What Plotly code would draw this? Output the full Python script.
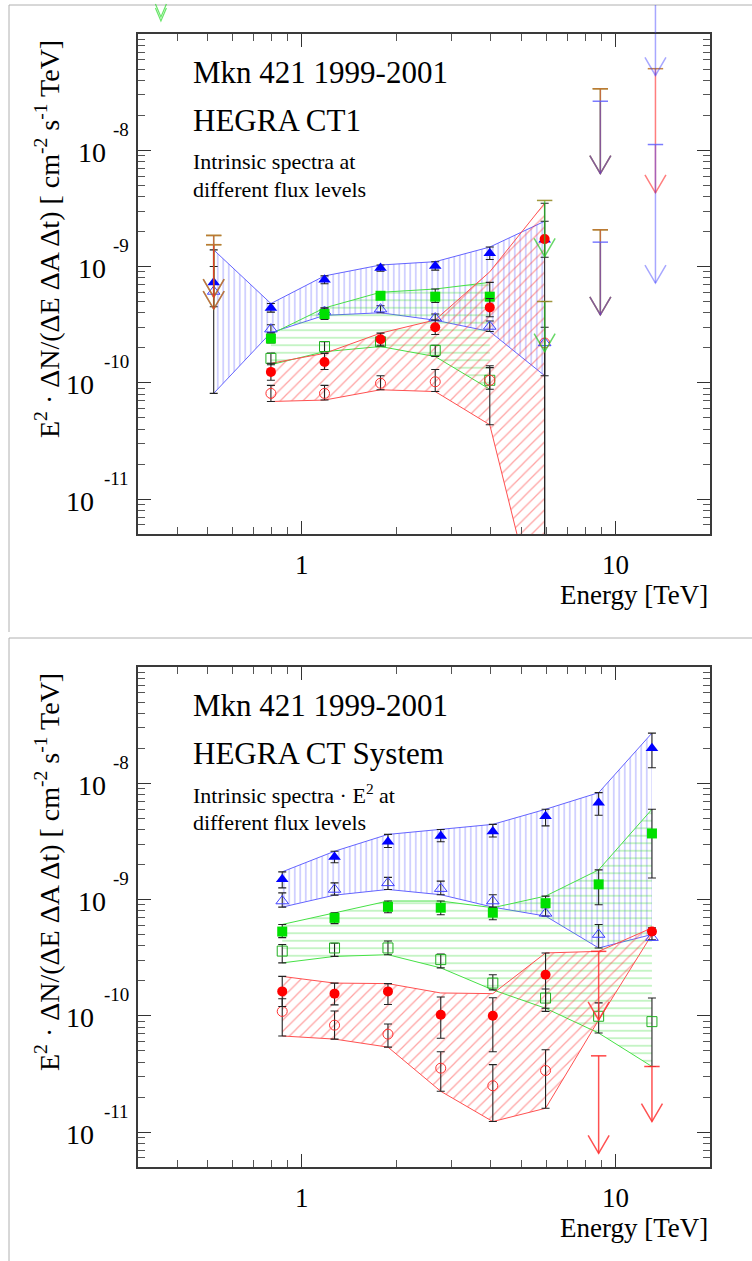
import numpy as np
import plotly.graph_objects as go

W, H = 752, 1261

# ---------------- Top panel : HEGRA CT1 ----------------
ct1_E_high = [0.523, 0.796, 1.18, 1.78, 2.66, 3.97, 5.94]
ct1_high_fill = [7.3e-10, 4.4e-10, 7.7e-10, 9.7e-10, 1.01e-9, 1.30e-9, 1.70e-9]
ct1_high_fill_up = [1.39e-9, 4.8e-10, 8.3e-10, 1.03e-9, 1.10e-9, 1.47e-9, 2.45e-9]
ct1_high_fill_lo = [4.5e-10, 4.05e-10, 7.1e-10, 9.1e-10, 9.3e-10, 1.15e-9, 1.2e-9]
ct1_high_open = [6.1e-10, 2.89e-10, 4.1e-10, 4.3e-10, 3.6e-10, 3.05e-10, 2.2e-10]
ct1_high_open_up = [1.0e-9, 3.15e-10, 4.4e-10, 4.6e-10, 3.9e-10, 3.4e-10, 5.0e-10]
ct1_high_open_lo = [8.1e-11, 2.7e-10, 3.8e-10, 4.0e-10, 3.45e-10, 2.76e-10, 1.15e-10]
ct1_high_band_hi = [1.39e-9, 4.8e-10, 8.3e-10, 1.03e-9, 1.10e-9, 1.47e-9, 2.45e-9]
ct1_high_band_lo = [8.1e-11, 2.7e-10, 3.8e-10, 4.0e-10, 3.45e-10, 2.76e-10, 1.15e-10]

ct1_E_mid = [0.796, 1.18, 1.78, 2.66, 3.97]
ct1_mid_fill = [2.4e-10, 3.9e-10, 5.6e-10, 5.5e-10, 5.5e-10]
ct1_mid_fill_up = [2.62e-10, 4.4e-10, 6.0e-10, 6.4e-10, 7.3e-10]
ct1_mid_fill_lo = [2.2e-10, 3.5e-10, 5.2e-10, 4.9e-10, 4.4e-10]
ct1_mid_open = [1.62e-10, 2.05e-10, 2.25e-10, 1.9e-10, 1.05e-10]
ct1_mid_open_up = [1.8e-10, 2.25e-10, 2.45e-10, 2.1e-10, 1.35e-10]
ct1_mid_open_lo = [1.43e-10, 1.85e-10, 2.05e-10, 1.68e-10, 8.8e-11]
ct1_mid_band_hi = [2.62e-10, 4.4e-10, 6.0e-10, 6.4e-10, 7.3e-10]
ct1_mid_band_lo = [1.43e-10, 1.85e-10, 2.05e-10, 1.68e-10, 8.8e-11]

ct1_E_low = [0.796, 1.18, 1.78, 2.66, 3.97, 5.94]
ct1_low_fill = [1.24e-10, 1.51e-10, 2.37e-10, 3.0e-10, 4.45e-10, 1.72e-9]
ct1_low_fill_up = [1.47e-10, 1.79e-10, 2.67e-10, 3.47e-10, 5.3e-10, 3.5e-9]
ct1_low_fill_lo = [1.05e-10, 1.3e-10, 2.1e-10, 2.6e-10, 3.7e-10, 1.0e-12]
ct1_low_open = [8.1e-11, 8.1e-11, 9.9e-11, 1.02e-10, 1.05e-10, 2.2e-10]
ct1_low_open_up = [9.5e-11, 9.5e-11, 1.15e-10, 1.3e-10, 1.4e-10, 3.0e-10]
ct1_low_open_lo = [6.9e-11, 7.1e-11, 8.7e-11, 8.4e-11, 4.35e-11, 5.5e-13]
ct1_low_band_hi = [1.47e-10, 1.79e-10, 2.67e-10, 3.47e-10, 9.0e-10, 3.5e-9]
ct1_low_band_lo = [6.9e-11, 7.1e-11, 8.7e-11, 8.4e-11, 4.35e-11, 5.5e-13]

# upper limits (energy, start value, arrow tip value)
ct1_ul_green_E = [0.523, 0.523, 8.94, 8.94, 5.94, 5.94]
ct1_ul_green_from = [1.85e-9, 1.54e-9, 3.38e-8, 2.07e-9, 3.7e-9, 5.0e-10]
ct1_ul_green_to = [5.45e-10, 4.3e-10, 6.3e-9, 3.84e-10, 1.22e-9, 1.85e-10]
ct1_ul_red_E = [0.523, 0.523, 8.94, 8.94, 13.4]
ct1_ul_red_from = [1.85e-9, 1.54e-9, 3.38e-8, 2.07e-9, 5.03e-8]
ct1_ul_red_to = [5.45e-10, 4.3e-10, 6.3e-9, 3.84e-10, 4.3e-9]
ct1_ul_blue_E = [8.94, 8.94, 13.4, 13.4]
ct1_ul_blue_from = [2.64e-8, 1.62e-9, 1.8e-7, 1.12e-8]
ct1_ul_blue_to = [6.3e-9, 3.84e-10, 4.4e-8, 7.2e-10]
ct1_stray_green_E = 0.355   # limit marker drawn above the top frame in the original

# ---------------- Bottom panel : HEGRA CT System ----------------
sys_E = [0.865, 1.27, 1.88, 2.77, 4.06, 5.98, 8.83, 13.06]
sys_high_fill = [1.49e-9, 2.32e-9, 3.14e-9, 3.51e-9, 3.84e-9, 5.2e-9, 6.8e-9, 2.0e-8]
sys_high_fill_up = [1.73e-9, 2.6e-9, 3.63e-9, 4.0e-9, 4.43e-9, 5.97e-9, 8.3e-9, 2.7e-8]
sys_high_fill_lo = [1.26e-9, 2.07e-9, 2.8e-9, 3.14e-9, 3.45e-9, 4.3e-9, 5.3e-9, 1.36e-8]
sys_high_open = [9.7e-10, 1.22e-9, 1.39e-9, 1.24e-9, 9.7e-10, 7.6e-10, 5.0e-10, 4.7e-10]
sys_high_open_up = [1.14e-9, 1.39e-9, 1.55e-9, 1.44e-9, 1.1e-9, 9.0e-10, 6.1e-10, 5.2e-10]
sys_high_open_lo = [8.6e-10, 1.09e-9, 1.22e-9, 1.1e-9, 8.6e-10, 7.2e-10, 3.83e-10, 4.5e-10]
sys_high_band_hi = [1.73e-9, 2.6e-9, 3.63e-9, 4.0e-9, 4.43e-9, 5.97e-9, 8.3e-9, 2.7e-8]
sys_high_band_lo = [8.6e-10, 1.09e-9, 1.22e-9, 1.1e-9, 8.6e-10, 7.2e-10, 3.83e-10, 5.0e-10]

sys_mid_fill = [5.3e-10, 6.95e-10, 8.65e-10, 8.5e-10, 7.7e-10, 9.3e-10, 1.35e-9, 3.7e-9]
sys_mid_fill_up = [6.1e-10, 7.7e-10, 9.7e-10, 9.7e-10, 8.5e-10, 1.07e-9, 1.8e-9, 5.97e-9]
sys_mid_fill_lo = [4.7e-10, 6.2e-10, 7.7e-10, 7.4e-10, 6.7e-10, 8.5e-10, 9.0e-10, 1.53e-9]
sys_mid_open = [3.6e-10, 3.83e-10, 3.83e-10, 3.04e-10, 1.91e-10, 1.42e-10, 9.9e-11, 8.9e-11]
sys_mid_open_up = [4.1e-10, 4.2e-10, 4.4e-10, 3.4e-10, 2.25e-10, 1.7e-10, 1.29e-10, 1.42e-10]
sys_mid_open_lo = [2.85e-10, 3.24e-10, 3.35e-10, 2.58e-10, 1.67e-10, 1.16e-10, 7.1e-11, 3.66e-11]
sys_mid_band_hi = [6.1e-10, 7.7e-10, 9.7e-10, 9.7e-10, 8.5e-10, 1.07e-9, 1.8e-9, 5.97e-9]
sys_mid_band_lo = [2.85e-10, 3.24e-10, 3.35e-10, 2.58e-10, 1.67e-10, 1.16e-10, 7.1e-11, 3.66e-11]

sys_low_fill = [1.62e-10, 1.55e-10, 1.62e-10, 1.02e-10, 1.0e-10, 2.25e-10, np.nan, 5.3e-10]
sys_low_fill_up = [2.18e-10, 1.91e-10, 1.89e-10, 1.45e-10, 1.43e-10, 3.47e-10, np.nan, 5.7e-10]
sys_low_fill_lo = [1.2e-10, 1.24e-10, 1.25e-10, 6.4e-11, 4.9e-11, 1.09e-10, np.nan, 5.0e-10]
sys_low_open = [1.09e-10, 8.3e-11, 6.95e-11, 3.54e-11, 2.5e-11, 3.38e-11, np.nan, np.nan]
sys_low_open_up = [1.4e-10, 1.1e-10, 8.5e-11, 4.9e-11, 3.8e-11, 5.1e-11, np.nan, np.nan]
sys_low_open_lo = [6.7e-11, 6.3e-11, 5.37e-11, 2.24e-11, 1.23e-11, 1.6e-11, np.nan, np.nan]
sys_low_band_hi = [2.18e-10, 1.91e-10, 1.89e-10, 1.57e-10, 1.55e-10, 3.47e-10, 3.58e-10, 5.7e-10]
sys_low_band_lo = [6.7e-11, 6.3e-11, 5.37e-11, 2.24e-11, 1.23e-11, 1.6e-11, 9.2e-11, 5.0e-10]

sys_ul_red_E = [8.83, 8.83, 13.06]
sys_ul_red_from = [4.52e-11, 3.58e-10, 3.66e-11]
sys_ul_red_to = [6.55e-12, 9.2e-11, 1.23e-11]

x_ticks = [1, 10]
x_ticktext = ["1", "10"]
y_ticks = [1e-8, 1e-9, 1e-10, 1e-11]
y_exponents = ["-8", "-9", "-10", "-11"]

X_RANGE = [0.3, 20]
Y_RANGE = [5e-12, 1e-7]

# ---------------- styling ----------------
SERIF = "Liberation Serif"
BLUE = dict(line="rgb(100,100,255)", pat="rgba(70,70,255,0.85)", mk="#0000ff", mko="#4040ff",
            shape="|", size=5.5, sol=0.2)
GREEN = dict(line="rgb(70,225,70)", pat="rgba(40,215,40,0.9)", mk="#00e000", mko="#20b020",
             shape="-", size=7.5, sol=0.15)
RED = dict(line="rgb(255,80,80)", pat="rgba(255,50,50,0.9)", mk="#ff0000", mko="#ff3030",
           shape="/", size=8, sol=0.16)
ERR = "#222222"

W_PX_PER_DEC = (710 - 138) / (np.log10(X_RANGE[1]) - np.log10(X_RANGE[0]))
H_PX_PER_DEC = (534 - 34) / (np.log10(Y_RANGE[1]) - np.log10(Y_RANGE[0]))
HEAD_DX = 10.5 / W_PX_PER_DEC     # half width of an arrow head in decades
HEAD_DY = 18.0 / H_PX_PER_DEC     # arrow head length in decades
x_dom = [138 / W, 710 / W]


def px2x(px):
    return px / W


def py2y(py):
    return 1 - py / H


def e2paper(e):
    lo, hi = np.log10(X_RANGE[0]), np.log10(X_RANGE[1])
    return x_dom[0] + (np.log10(e) - lo) / (hi - lo) * (x_dom[1] - x_dom[0])


fig = go.Figure()


def arr(a):
    return np.array(a, dtype=float)


def add_state(E, bhi, blo, fy, fup, flo, oy, oup, olo, st, sym, xa, ya):
    E = arr(E)
    fig.add_trace(go.Scatter(x=E, y=arr(blo), mode="lines", line=dict(color=st["line"], width=1),
                             xaxis=xa, yaxis=ya, hoverinfo="skip"))
    fig.add_trace(go.Scatter(x=E, y=arr(bhi), mode="lines", line=dict(color=st["line"], width=1),
                             fill="tonexty", fillcolor="rgba(0,0,0,0)",
                             fillpattern=dict(shape=st["shape"], fgcolor=st["pat"], bgcolor="rgba(0,0,0,0)",
                                              size=st["size"], solidity=st["sol"], fillmode="overlay"),
                             xaxis=xa, yaxis=ya, hoverinfo="skip"))
    return (E, fy, fup, flo, oy, oup, olo, st, sym, xa, ya)


def add_points(E, fy, fup, flo, oy, oup, olo, st, sym, xa, ya):
    fy, fup, flo = arr(fy), arr(fup), arr(flo)
    oy, oup, olo = arr(oy), arr(oup), arr(olo)
    big = 11 if sym == "triangle-up" else 10
    fig.add_trace(go.Scatter(x=E, y=oy, mode="markers", xaxis=xa, yaxis=ya,
                             marker=dict(symbol=sym + "-open", size=big, color=st["mko"],
                                         line=dict(width=1, color=st["mko"])),
                             error_y=dict(type="data", symmetric=False, array=oup - oy, arrayminus=oy - olo,
                                          color=ERR, thickness=1.1, width=4)))
    fig.add_trace(go.Scatter(x=E, y=fy, mode="markers", xaxis=xa, yaxis=ya,
                             marker=dict(symbol=sym, size=big, color=st["mk"], line=dict(width=0)),
                             error_y=dict(type="data", symmetric=False, array=fup - fy, arrayminus=fy - flo,
                                          color=ERR, thickness=1.1, width=4)))


def add_ul(E, vfrom, vto, color, capcolor, xa, ya):
    xs, ys = [], []
    for e, a, b in zip(E, vfrom, vto):
        xs += [e, e, None]
        ys += [a, b, None]
        xs += [e * 10 ** (-HEAD_DX), e, e * 10 ** HEAD_DX, None]
        ys += [b * 10 ** HEAD_DY, b, b * 10 ** HEAD_DY, None]
    fig.add_trace(go.Scatter(x=xs, y=ys, mode="lines", xaxis=xa, yaxis=ya, hoverinfo="skip",
                             line=dict(color=color, width=1.5)))
    fig.add_trace(go.Scatter(x=arr(E), y=arr(vfrom), mode="markers", xaxis=xa, yaxis=ya, hoverinfo="skip",
                             marker=dict(symbol="line-ew-open", size=11, color=capcolor,
                                         line=dict(width=1.5, color=capcolor))))


# top panel
pts = []
pts.append(add_state(ct1_E_high, ct1_high_band_hi, ct1_high_band_lo, ct1_high_fill, ct1_high_fill_up, ct1_high_fill_lo,
                     ct1_high_open, ct1_high_open_up, ct1_high_open_lo, BLUE, "triangle-up", "x", "y"))
pts.append(add_state(ct1_E_mid, ct1_mid_band_hi, ct1_mid_band_lo, ct1_mid_fill, ct1_mid_fill_up, ct1_mid_fill_lo,
                     ct1_mid_open, ct1_mid_open_up, ct1_mid_open_lo, GREEN, "square", "x", "y"))
pts.append(add_state(ct1_E_low, ct1_low_band_hi, ct1_low_band_lo, ct1_low_fill, ct1_low_fill_up, ct1_low_fill_lo,
                     ct1_low_open, ct1_low_open_up, ct1_low_open_lo, RED, "circle", "x", "y"))
# bottom panel
pts.append(add_state(sys_E, sys_high_band_hi, sys_high_band_lo, sys_high_fill, sys_high_fill_up, sys_high_fill_lo,
                     sys_high_open, sys_high_open_up, sys_high_open_lo, BLUE, "triangle-up", "x2", "y2"))
pts.append(add_state(sys_E, sys_mid_band_hi, sys_mid_band_lo, sys_mid_fill, sys_mid_fill_up, sys_mid_fill_lo,
                     sys_mid_open, sys_mid_open_up, sys_mid_open_lo, GREEN, "square", "x2", "y2"))
pts.append(add_state(sys_E, sys_low_band_hi, sys_low_band_lo, sys_low_fill, sys_low_fill_up, sys_low_fill_lo,
                     sys_low_open, sys_low_open_up, sys_low_open_lo, RED, "circle", "x2", "y2"))
for p in pts:
    add_points(*p)

add_ul(ct1_ul_green_E, ct1_ul_green_from, ct1_ul_green_to, "rgba(40,200,40,0.7)", "rgba(150,140,40,0.9)", "x", "y")
add_ul(ct1_ul_red_E, ct1_ul_red_from, ct1_ul_red_to, "rgba(255,40,40,0.6)", "rgba(190,120,50,0.9)", "x", "y")
add_ul(ct1_ul_blue_E, ct1_ul_blue_from, ct1_ul_blue_to, "rgba(60,60,255,0.45)", "rgba(90,90,255,0.8)", "x", "y")
add_ul(sys_ul_red_E, sys_ul_red_from, sys_ul_red_to, "rgba(255,50,50,0.85)", "rgba(255,50,50,0.9)", "x2", "y2")

# ---------------- axes ----------------
minor_x = [0.3, 0.4, 0.5, 0.6, 0.7, 0.8, 0.9, 2, 3, 4, 5, 6, 7, 8, 9, 20]
minor_y = [m * 10.0 ** k for k in range(-12, -7) for m in range(2, 10)] + [1e-7]
top_dom = [py2y(534), py2y(34)]
bot_dom = [py2y(1167), py2y(667)]

common_x = dict(type="log", range=[np.log10(X_RANGE[0]), np.log10(X_RANGE[1])], domain=x_dom,
                tickmode="array", tickvals=x_ticks, ticks="inside", ticklen=13, tickwidth=1, tickcolor="#333",
                showticklabels=False, showline=True, linecolor="#3a3a3a", linewidth=2.4, mirror="allticks",
                showgrid=False, zeroline=False,
                minor=dict(tickmode="array", tickvals=minor_x, ticks="inside", ticklen=7, tickcolor="#555",
                           showgrid=False))
common_y = dict(type="log", range=[np.log10(Y_RANGE[0]), np.log10(Y_RANGE[1])],
                tickmode="array", tickvals=y_ticks, ticks="inside", ticklen=13, tickwidth=1, tickcolor="#333",
                showticklabels=False, showline=True, linecolor="#3a3a3a", linewidth=2.4, mirror="allticks",
                showgrid=False, zeroline=False,
                minor=dict(tickmode="array", tickvals=minor_y, ticks="inside", ticklen=7, tickcolor="#555",
                           showgrid=False))

fig.update_layout(
    xaxis=dict(common_x, anchor="y"),
    yaxis=dict(common_y, domain=top_dom, anchor="x"),
    xaxis2=dict(common_x, anchor="y2"),
    yaxis2=dict(common_y, domain=bot_dom, anchor="x2"),
)

# ---------------- texts ----------------
annotations = []
panels = [
    dict(top=34, yref="y", xref="x", title="HEGRA CT1", sub="Intrinsic spectra at"),
    dict(top=667, yref="y2", xref="x2", title="HEGRA CT System", sub="Intrinsic spectra · E<sup>2</sup> at"),
]
for p in panels:
    t = p["top"]
    annotations.append(dict(x=px2x(191), y=py2y(t + 38), xref="paper", yref="paper", xanchor="left",
                            yanchor="middle", text="Mkn 421 1999-2001", showarrow=False,
                            font=dict(family=SERIF, size=31, color="black")))
    annotations.append(dict(x=px2x(191), y=py2y(t + 86), xref="paper", yref="paper", xanchor="left",
                            yanchor="middle", text=p["title"], showarrow=False,
                            font=dict(family=SERIF, size=31, color="black")))
    annotations.append(dict(x=px2x(191), y=py2y(t + 127), xref="paper", yref="paper", xanchor="left",
                            yanchor="middle", text=p["sub"], showarrow=False,
                            font=dict(family=SERIF, size=22, color="black")))
    annotations.append(dict(x=px2x(191), y=py2y(t + 155), xref="paper", yref="paper", xanchor="left",
                            yanchor="middle", text="different flux levels", showarrow=False,
                            font=dict(family=SERIF, size=22, color="black")))
    annotations.append(dict(x=px2x(47), y=py2y(t + 205), xref="paper", yref="paper", xanchor="center",
                            yanchor="middle", textangle=-90, showarrow=False,
                            text="E<sup>2</sup> · ΔN/(ΔE ΔA Δt) [ cm<sup>-2</sup> s<sup>-1</sup> TeV]",
                            font=dict(family=SERIF, size=28, color="black")))
    annotations.append(dict(x=px2x(710), y=py2y(t + 561), xref="paper", yref="paper", xanchor="right",
                            yanchor="middle", text="Energy [TeV]", showarrow=False,
                            font=dict(family=SERIF, size=27, color="black")))
    for v, s in zip(x_ticks, x_ticktext):
        annotations.append(dict(x=np.log10(v), y=py2y(t + 531), xref=p["xref"], yref="paper", xanchor="center",
                                yanchor="middle", text=s, showarrow=False,
                                font=dict(family=SERIF, size=27, color="black")))
    for v, e in zip(y_ticks, y_exponents):
        base_x = 108 if len(e) == 2 else 96
        annotations.append(dict(x=px2x(base_x), y=np.log10(v), xref="paper", yref=p["yref"], xanchor="right",
                                yanchor="middle", yshift=-2, text="10", showarrow=False,
                                font=dict(family=SERIF, size=28, color="black")))
        annotations.append(dict(x=px2x(131), y=np.log10(v), xref="paper", yref=p["yref"], xanchor="right",
                                yanchor="middle", yshift=21, text=e, showarrow=False,
                                font=dict(family=SERIF, size=19, color="black")))

# lines that the original canvas draws outside the top frame
x134 = e2paper(ct1_ul_blue_E[2])
xs_g = e2paper(ct1_stray_green_E)
half = 5.5 / W
shapes = [
    dict(type="line", xref="paper", yref="paper", x0=px2x(9), x1=1, y0=py2y(5), y1=py2y(5),
         line=dict(color="#b0b0b0", width=1)),
    dict(type="line", xref="paper", yref="paper", x0=px2x(9), x1=px2x(9), y0=py2y(5), y1=py2y(632),
         line=dict(color="#b0b0b0", width=1)),
    dict(type="line", xref="paper", yref="paper", x0=px2x(9), x1=1, y0=py2y(638), y1=py2y(638),
         line=dict(color="#b0b0b0", width=1)),
    dict(type="line", xref="paper", yref="paper", x0=px2x(9), x1=px2x(9), y0=py2y(638), y1=0,
         line=dict(color="#b0b0b0", width=1)),
    dict(type="line", xref="paper", yref="paper", x0=x134, x1=x134, y0=py2y(33), y1=py2y(5),
         line=dict(color="rgba(60,60,255,0.45)", width=1.5)),
]
for tip in (17, 21):
    shapes.append(dict(type="path", xref="paper", yref="paper",
                       path="M %.5f,%.5f L %.5f,%.5f L %.5f,%.5f" % (xs_g - half, py2y(tip - 13), xs_g, py2y(tip),
                                                                    xs_g + half, py2y(tip - 13)),
                       line=dict(color="rgba(40,220,40,0.7)", width=1.2)))

fig.update_layout(width=W, height=H, margin=dict(l=0, r=0, t=0, b=0), paper_bgcolor="white",
                  plot_bgcolor="white", showlegend=False, annotations=annotations, shapes=shapes,
                  font=dict(family=SERIF, color="black"))

fig.write_html("out.html")
